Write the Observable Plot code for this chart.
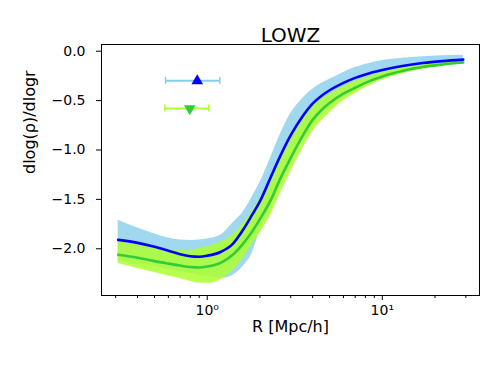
<!DOCTYPE html>
<html>
<head>
<meta charset="utf-8">
<script src="https://cdn.jsdelivr.net/npm/d3@7"></script>
<script src="https://cdn.jsdelivr.net/npm/@observablehq/plot@0.6"></script>
<style>
  html, body { margin: 0; padding: 0; background: white; }
  #chart { width: 498px; height: 374px; }
</style>
</head>
<body>
<div id="chart"></div>
<script>
// Radius grid [Mpc/h]
const R = [0.31, 0.4, 0.5, 0.6, 0.7, 0.8, 0.9, 1.0, 1.2, 1.4, 1.6, 1.8, 2.0, 2.3, 2.6, 3.0, 3.5, 4, 4.5, 5, 6, 7, 8, 10, 13, 17, 22, 29];

// Blue series (mean and band)
const blueMean = [-1.91, -1.94, -1.98, -2.02, -2.055, -2.075, -2.08, -2.07, -2.03, -1.95, -1.81, -1.66, -1.52, -1.28, -1.07, -0.85, -0.66, -0.53, -0.45, -0.395, -0.32, -0.27, -0.235, -0.19, -0.15, -0.12, -0.10, -0.085];
const blueHi   = [-1.71, -1.79, -1.85, -1.89, -1.91, -1.915, -1.91, -1.90, -1.86, -1.74, -1.63, -1.48, -1.33, -1.08, -0.85, -0.63, -0.48, -0.385, -0.325, -0.285, -0.215, -0.165, -0.135, -0.095, -0.07, -0.055, -0.045, -0.04];
const blueLo   = [-2.12, -2.15, -2.18, -2.21, -2.23, -2.25, -2.27, -2.28, -2.30, -2.27, -2.18, -2.05, -1.82, -1.57, -1.35, -1.12, -0.90, -0.73, -0.62, -0.545, -0.44, -0.37, -0.32, -0.26, -0.205, -0.165, -0.14, -0.12];

// Green series (mean and band)
const greenMean = [-2.06, -2.09, -2.125, -2.15, -2.17, -2.185, -2.19, -2.18, -2.14, -2.06, -1.95, -1.83, -1.70, -1.51, -1.30, -1.08, -0.86, -0.695, -0.595, -0.525, -0.43, -0.37, -0.32, -0.255, -0.20, -0.16, -0.135, -0.115];
const greenHi   = [-1.93, -1.96, -1.99, -2.01, -2.02, -2.02, -2.00, -1.98, -1.93, -1.86, -1.75, -1.62, -1.49, -1.29, -1.10, -0.89, -0.70, -0.565, -0.485, -0.435, -0.355, -0.305, -0.27, -0.215, -0.17, -0.135, -0.115, -0.10];
const greenLo   = [-2.15, -2.20, -2.24, -2.275, -2.30, -2.33, -2.35, -2.35, -2.31, -2.22, -2.10, -1.96, -1.84, -1.66, -1.45, -1.22, -0.99, -0.815, -0.705, -0.625, -0.50, -0.43, -0.37, -0.29, -0.23, -0.18, -0.15, -0.125];

// Error-bar markers (top-left)
const markerX  = [0.877, 0.795];
const markerLo = [0.578, 0.573];
const markerHi = [1.18, 1.02];
const markerY  = [-0.30, -0.58];
const markerBar = ["skyblue", "greenyellow"];
const markerFill = ["blue", "limegreen"];
const markerRot = [0, 180];

// Ticks and labels
const yTicks = [0, -0.5, -1.0, -1.5, -2.0];
const xMajor = [1, 10];
const xMajorLabels = ["10⁰", "10¹"];
const xMinor = [0.3, 0.4, 0.5, 0.6, 0.7, 0.8, 0.9, 2, 3, 4, 5, 6, 7, 8, 9, 20, 30];
const titleText = "LOWZ";
const xLabel = "R [Mpc/h]";
const yLabel = "dlog(ρ)/dlogr";

const rows = R.map((r, i) => ({
  R: r, b: blueMean[i], bhi: blueHi[i], blo: blueLo[i],
  g: greenMean[i], ghi: greenHi[i], glo: greenLo[i]
}));
const markers = markerX.map((x, i) => ({
  x, lo: markerLo[i], hi: markerHi[i], y: markerY[i],
  bar: markerBar[i], fill: markerFill[i], rot: markerRot[i]
}));

const curve = "monotone-x";

const plot = Plot.plot({
  width: 498,
  height: 374,
  marginLeft: 101,
  marginRight: 19,
  marginTop: 44,
  marginBottom: 79,
  style: { fontFamily: "'DejaVu Sans', sans-serif", fontSize: "14px", color: "black", background: "white" },
  x: { type: "log", domain: [0.249, 35.9], label: null },
  y: { domain: [-2.473, 0.068], label: null },
  marks: [
    Plot.areaY(rows, { x: "R", y1: "blo", y2: "bhi", fill: "skyblue", fillOpacity: 0.8, curve }),
    Plot.areaY(rows, { x: "R", y1: "glo", y2: "ghi", fill: "greenyellow", fillOpacity: 0.85, curve }),
    Plot.line(rows, { x: "R", y: "g", stroke: "limegreen", strokeWidth: 2.6, curve }),
    Plot.line(rows, { x: "R", y: "b", stroke: "blue", strokeWidth: 2.6, curve }),
    // error bars
    Plot.ruleY(markers, { x1: "lo", x2: "hi", y: "y", stroke: "bar", strokeWidth: 2 }),
    Plot.ruleX(markers, { x: "lo", y1: "y", y2: "y", stroke: "bar", strokeWidth: 1.5, insetTop: -3.5, insetBottom: -3.5 }),
    Plot.ruleX(markers, { x: "hi", y1: "y", y2: "y", stroke: "bar", strokeWidth: 1.5, insetTop: -3.5, insetBottom: -3.5 }),
    Plot.dot(markers, { x: "x", y: "y", symbol: "triangle", r: 4.3, fill: "fill", stroke: "none", rotate: "rot" }),
    Plot.frame({ stroke: "black", strokeWidth: 1 }),
    Plot.axisY({ ticks: yTicks, tickSize: 5, tickPadding: 11, fontSize: 14, label: null,
      tickFormat: d => (d === 0 ? "0.0" : d.toFixed(1).replace("-", "−")) }),
    Plot.axisX({ ticks: xMajor, tickSize: 5, tickPadding: 5, fontSize: 14, label: null,
      tickFormat: d => xMajorLabels[xMajor.indexOf(d)] }),
    Plot.axisX({ ticks: xMinor, tickSize: 3, tickFormat: () => "", label: null }),
    Plot.text([titleText], { frameAnchor: "top", dy: -17, fontSize: 20, fill: "black" }),
    Plot.text([xLabel], { frameAnchor: "bottom", dy: 36, fontSize: 16, fill: "black" }),
    Plot.text([yLabel], { frameAnchor: "left", dx: -72, dy: 4, rotate: -90, fontSize: 16, fill: "black" })
  ]
});
document.getElementById("chart").appendChild(plot);
</script>
</body>
</html>
